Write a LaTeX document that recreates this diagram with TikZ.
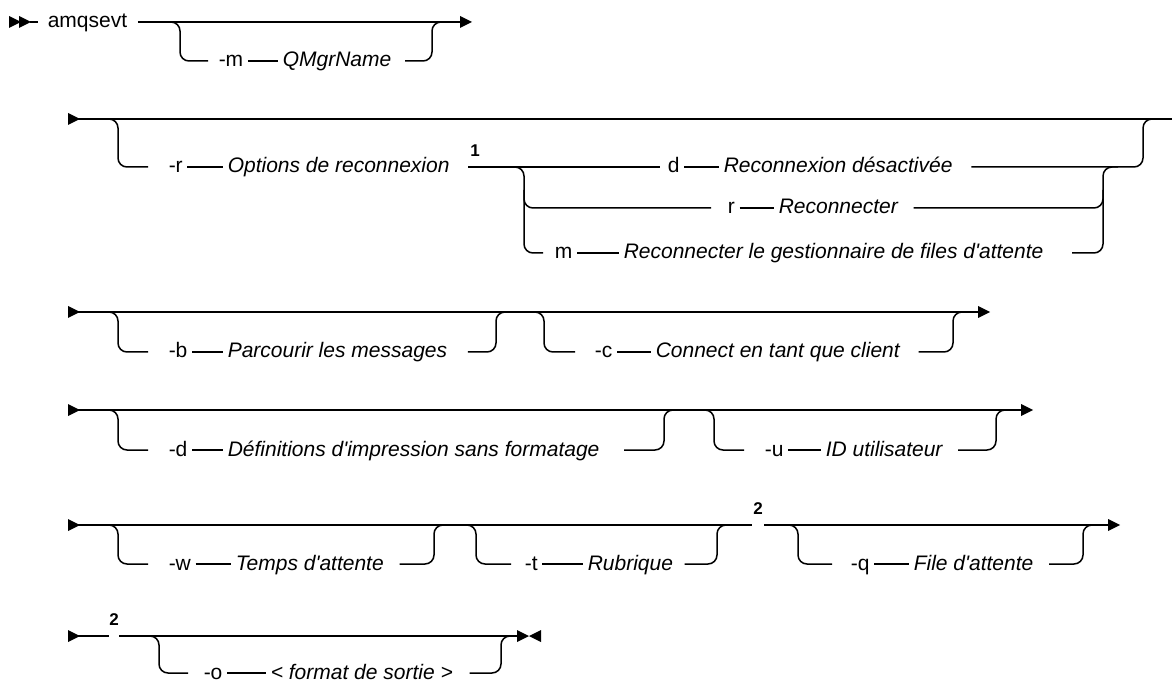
\documentclass[tikz,border=0pt]{standalone}
\usepackage{fontspec}
\setmainfont{Liberation Sans}
\tikzset{
  kw/.style={anchor=west, inner sep=0pt, text height=13pt, text depth=1pt,
    font=\fontsize{21}{25}\selectfont},
  var/.style={kw, font=\fontsize{21}{25}\selectfont\itshape},
  fn/.style={inner sep=0pt, font=\fontsize{17}{20}\selectfont\bfseries},
  link/.style={shorten <=4pt, shorten >=4pt},
}
\begin{document}
\begin{tikzpicture}[x=1pt,y=-1pt,line width=1.5pt]
    \def\tip(#1,#2){\fill (#1,#2) -- (#1-12,#2-6) -- (#1-12,#2+6) -- cycle;}
    \def\bak(#1,#2){\fill (#1,#2) -- (#1+12,#2-6) -- (#1+12,#2+6) -- cycle;}
    \def\dn(#1,#2,#3)#4#5{\draw[rounded corners=9pt] (#1-12,#2) -- (#1,#2) -- (#1,#3) -- ([xshift=-#5pt]#4.west);}
    \def\up(#1,#2,#3)#4#5{\draw[rounded corners=9pt] ([xshift=#5pt]#4.east) -- (#1,#3) -- (#1,#2) -- (#1+12,#2);}
    \useasboundingbox (0,0) rectangle (1172,684);
    % row 1
    \tip(21,22) \tip(31,22)
    \draw (30,22) -- (38,22);
    \node[kw] (amq) at (47,22) {amqsevt};
    \draw ([xshift=10pt]amq.east) -- (462,22);
    \tip(472,22)
    \node[kw] (mopt) at (218,61) {-m};
    \node[var] (qmgr) at (282,61) {QMgrName};
    \draw[link] (mopt) -- (qmgr);
    \dn(180,22,61){mopt}{10}
    \up(432,22,61){qmgr}{13}
    % row 2
    \tip(80,119)
    \draw (78,119) -- (1172,119);
    \node[kw] (ropt) at (168,167) {-r};
    \node[var] (opts) at (227,167) {Options de reconnexion};
    \draw[link] (ropt) -- (opts);
    \dn(118,119,167){ropt}{20}
    \node[fn] (one) at (475,151) {1};
    \node[kw] (dkw) at (667,167) {d};
    \node[var] (dvar) at (723,167) {Reconnexion désactivée};
    \node[kw] (rkw) at (727,208) {r};
    \node[var] (rvar) at (778,208) {Reconnecter};
    \node[kw] (mkw) at (554,253) {m};
    \node[var] (mvar) at (623,253) {Reconnecter le gestionnaire de files d\textquotesingle attente};
    \draw ([xshift=18pt]opts.east) -- ([xshift=-7pt]dkw.west);
    \draw[link] (dkw) -- (dvar);
    \draw[link] (rkw) -- (rvar);
    \draw[link] (mkw) -- (mvar);
    \draw[rounded corners=9pt] (510,167) -- (524,167) -- (524,253) -- ([xshift=-11pt]mkw.west);
    \draw[rounded corners=9pt] (524,190) -- (524,208) -- ([xshift=-16pt]rkw.west);
    \draw[rounded corners=9pt] ([xshift=18pt]dvar.east) -- (1143,167) -- (1143,119) -- (1156,119);
    \draw[rounded corners=9pt] ([xshift=15pt]rvar.east) -- (1103,208) -- (1103,190);
    \draw[rounded corners=9pt] ([xshift=28pt]mvar.east) -- (1103,253) -- (1103,167) -- (1118,167);
    % row 3
    \tip(80,312)
    \draw (78,312) -- (980,312);
    \tip(990,312)
    \node[kw] (bkw) at (168,352) {-b};
    \node[var] (bvar) at (227,352) {Parcourir les messages};
    \draw[link] (bkw) -- (bvar);
    \dn(118,312,352){bkw}{20}
    \up(496,312,352){bvar}{20}
    \node[kw] (ckw) at (594,352) {-c};
    \node[var] (cvar) at (655,352) {Connect en tant que client};
    \draw[link] (ckw) -- (cvar);
    \dn(544,312,352){ckw}{19}
    \up(953,312,352){cvar}{18}
    % row 4
    \tip(80,410)
    \draw (78,410) -- (1023,410);
    \tip(1033,410)
    \node[kw] (dopt) at (168,450) {-d};
    \node[var] (dfn) at (227,450) {Définitions d\textquotesingle impression sans formatage};
    \draw[link] (dopt) -- (dfn);
    \dn(118,410,450){dopt}{20}
    \up(664,410,450){dfn}{24}
    \node[kw] (ukw) at (764,450) {-u};
    \node[var] (uvar) at (825,450) {ID utilisateur};
    \draw[link] (ukw) -- (uvar);
    \dn(714,410,450){ukw}{20}
    \up(996,410,450){uvar}{15}
    % row 5
    \tip(80,525)
    \draw (78,525) -- (752,525);
    \node[fn] (two) at (758,509) {2};
    \draw (764,525) -- (1110,525);
    \tip(1120,525)
    \node[kw] (wkw) at (168,564) {-w};
    \node[var] (wvar) at (235,564) {Temps d\textquotesingle attente};
    \draw[link] (wkw) -- (wvar);
    \dn(118,525,564){wkw}{20}
    \up(434,525,564){wvar}{15}
    \node[kw] (tkw) at (524,564) {-t};
    \node[var] (tvar) at (587,564) {Rubrique};
    \draw[link] (tkw) -- (tvar);
    \dn(476,525,564){tkw}{13}
    \up(717,525,564){tvar}{11}
    \node[kw] (qkw) at (850,564) {-q};
    \node[var] (qvar) at (913,564) {File d\textquotesingle attente};
    \draw[link] (qkw) -- (qvar);
    \dn(798,525,564){qkw}{18}
    \up(1083,525,564){qvar}{15}
    % row 6
    \tip(80,636)
    \draw (78,636) -- (109,636);
    \node[fn] (twob) at (114,620) {2};
    \draw (119,636) -- (520,636);
    \tip(529,636) \bak(529,636)
    \node[kw] (okw) at (203,673) {-o};
    \node[var] (ovar) at (270,673) {< format de sortie >};
    \draw[link] (okw) -- (ovar);
    \dn(159,636,673){okw}{15}
    \up(501,636,673){ovar}{16}
  \end{tikzpicture}
\end{document}
